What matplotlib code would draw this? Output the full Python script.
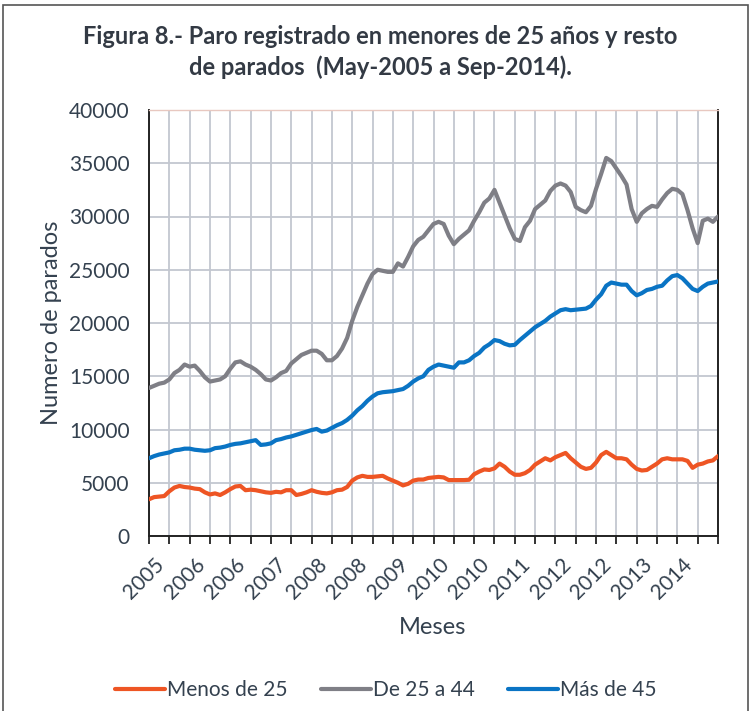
import matplotlib
matplotlib.use("Agg")
import matplotlib.pyplot as plt
from matplotlib.patches import Rectangle

plt.rcParams['font.family'] = ['Lato', 'DejaVu Sans']

title = "Figura 8.- Paro registrado en menores de 25 años y resto\nde parados  (May-2005 a Sep-2014)."
series_names = ["Menos de 25", "De 25 a 44", "Más de 45"]
tick_labels = ["2005", "2006", "2006", "2007", "2008", "2008", "2009",
               "2010", "2010", "2011", "2012", "2012", "2013", "2014"]

menos_25 = [3450, 3650, 3700, 3750, 4200, 4550, 4700, 4600, 4550, 4450,
            4400, 4100, 3900, 4000, 3850, 4100, 4400, 4650, 4700, 4300,
            4350, 4300, 4200, 4100, 4050, 4150, 4100, 4300, 4300, 3850,
            3950, 4100, 4300, 4150, 4050, 4000, 4100, 4300, 4350, 4600,
            5200, 5500, 5650, 5550, 5550, 5600, 5650, 5400, 5200, 5000,
            4750, 4900, 5200, 5300, 5300, 5450, 5500, 5550, 5500, 5250,
            5250, 5250, 5250, 5280, 5800, 6050, 6250, 6200, 6350, 6800,
            6500, 6050, 5750, 5750, 5900, 6200, 6700, 7000, 7300, 7100,
            7400, 7600, 7800, 7300, 6900, 6500, 6300, 6400, 6900, 7600,
            7900, 7600, 7300, 7300, 7200, 6700, 6300, 6150, 6200, 6500,
            6800, 7200, 7300, 7200, 7200, 7200, 7050, 6400, 6700, 6800,
            7000, 7100, 7500]

de_25_44 = [13900, 14100, 14300, 14400, 14700, 15300, 15600, 16100, 15900, 16000,
            15500, 14900, 14500, 14600, 14700, 15000, 15700, 16300, 16400, 16100,
            15900, 15600, 15200, 14700, 14600, 14900, 15300, 15500, 16200, 16600,
            17000, 17200, 17400, 17400, 17100, 16500, 16500, 16900, 17600, 18600,
            20200, 21500, 22600, 23700, 24600, 25000, 24900, 24800, 24800, 25600,
            25300, 26200, 27200, 27800, 28100, 28700, 29300, 29500, 29300, 28200,
            27400, 27900, 28300, 28700, 29600, 30400, 31300, 31700, 32500, 31300,
            30100, 28900, 27900, 27700, 29000, 29600, 30700, 31100, 31500, 32400,
            32900, 33100, 32900, 32300, 30900, 30600, 30400, 31000, 32600, 34000,
            35500, 35200, 34500, 33800, 33000, 30700, 29500, 30300, 30700, 31000,
            30900, 31600, 32200, 32600, 32500, 32100, 30600, 28900, 27500, 29600,
            29800, 29500, 30000]

mas_45 = [7300, 7500, 7650, 7750, 7850, 8050, 8100, 8200, 8200, 8100,
          8050, 8000, 8050, 8250, 8300, 8400, 8550, 8650, 8700, 8800,
          8900, 9000, 8550, 8600, 8700, 9000, 9100, 9250, 9350, 9500,
          9650, 9800, 9950, 10050, 9800, 9900, 10150, 10400, 10600, 10900,
          11300, 11800, 12200, 12700, 13100, 13400, 13500, 13550, 13600, 13700,
          13800, 14100, 14500, 14800, 15000, 15600, 15900, 16100, 16000, 15900,
          15800, 16300, 16300, 16500, 16900, 17200, 17700, 18000, 18400, 18300,
          18050, 17900, 17950, 18400, 18800, 19200, 19600, 19900, 20200, 20600,
          20900, 21200, 21300, 21200, 21250, 21300, 21350, 21600, 22200, 22700,
          23500, 23800, 23700, 23600, 23600, 23000, 22600, 22800, 23100, 23200,
          23400, 23500, 24000, 24400, 24500, 24200, 23700, 23200, 23000, 23400,
          23700, 23800, 23900]

colors = ["#EE5524", "#7F7F86", "#0A74C4"]
text_color = "#34414F"

fig = plt.figure(figsize=(7.5, 7.11), dpi=100)
fig.patch.set_facecolor("white")
fig.patches.append(Rectangle((3 / 750, -0.01), 745 / 750, 1 - 5 / 711 + 0.01,
                             transform=fig.transFigure, fill=False,
                             edgecolor="#555555", linewidth=1.2))

ax = fig.add_axes([149 / 750, 1 - 536 / 711, (718 - 149) / 750, (536 - 110) / 711])
x = list(range(len(menos_25)))
for vals, c, name in zip([menos_25, de_25_44, mas_45], colors, series_names):
    ax.plot(x, vals, color=c, lw=3.0, label=name, solid_capstyle="round",
            solid_joinstyle="round", zorder=3)

n = len(menos_25)
ax.set_xlim(0, n - 1)
ax.set_ylim(0, 40000)
ax.set_yticks(range(0, 40001, 5000))
ax.set_xticks(list(range(0, n, 4)), minor=False)
ax.set_xticklabels([""] * len(range(0, n, 4)))
label_pos = list(range(0, 8 * len(tick_labels), 8))
for p, lab in zip(label_pos, tick_labels):
    ax.text(p + 1.0, -1700, lab, rotation=45, ha="right", va="top",
            rotation_mode="anchor", fontsize=15, color=text_color,
            transform=ax.transData)

ax.grid(True, color="#C3C7D0", lw=1.3, zorder=0)
ax.set_axisbelow(True)
ax.tick_params(axis="x", direction="out", length=6, width=1.3, color="#222222")
ax.tick_params(axis="y", length=0, labelsize=15, labelcolor=text_color, pad=14)
for s in ["left", "bottom", "right"]:
    ax.spines[s].set_color("#222222")
    ax.spines[s].set_linewidth(1.4)
ax.spines["top"].set_color("#E8C8C0")
ax.spines["top"].set_linewidth(1.0)

ax.set_ylabel("Numero de parados", fontsize=17, color=text_color, labelpad=5)
fig.text(433 / 750, 1 - 627 / 711, "Meses", fontsize=17, color=text_color,
         ha="center", va="center")

fig.text(380 / 750, 1 - 52 / 711, title, fontsize=17, fontweight="bold",
         color="#333A44", ha="center", va="center", linespacing=1.35)

handles, labels = ax.get_legend_handles_labels()
fig.legend(handles, labels, loc="center", bbox_to_anchor=(386 / 750, 1 - 690 / 711),
           ncol=3, frameon=False, fontsize=15, handlelength=2.4, handletextpad=0.1,
           columnspacing=1.6, labelcolor=text_color)

fig.savefig("out.png", dpi=100)
